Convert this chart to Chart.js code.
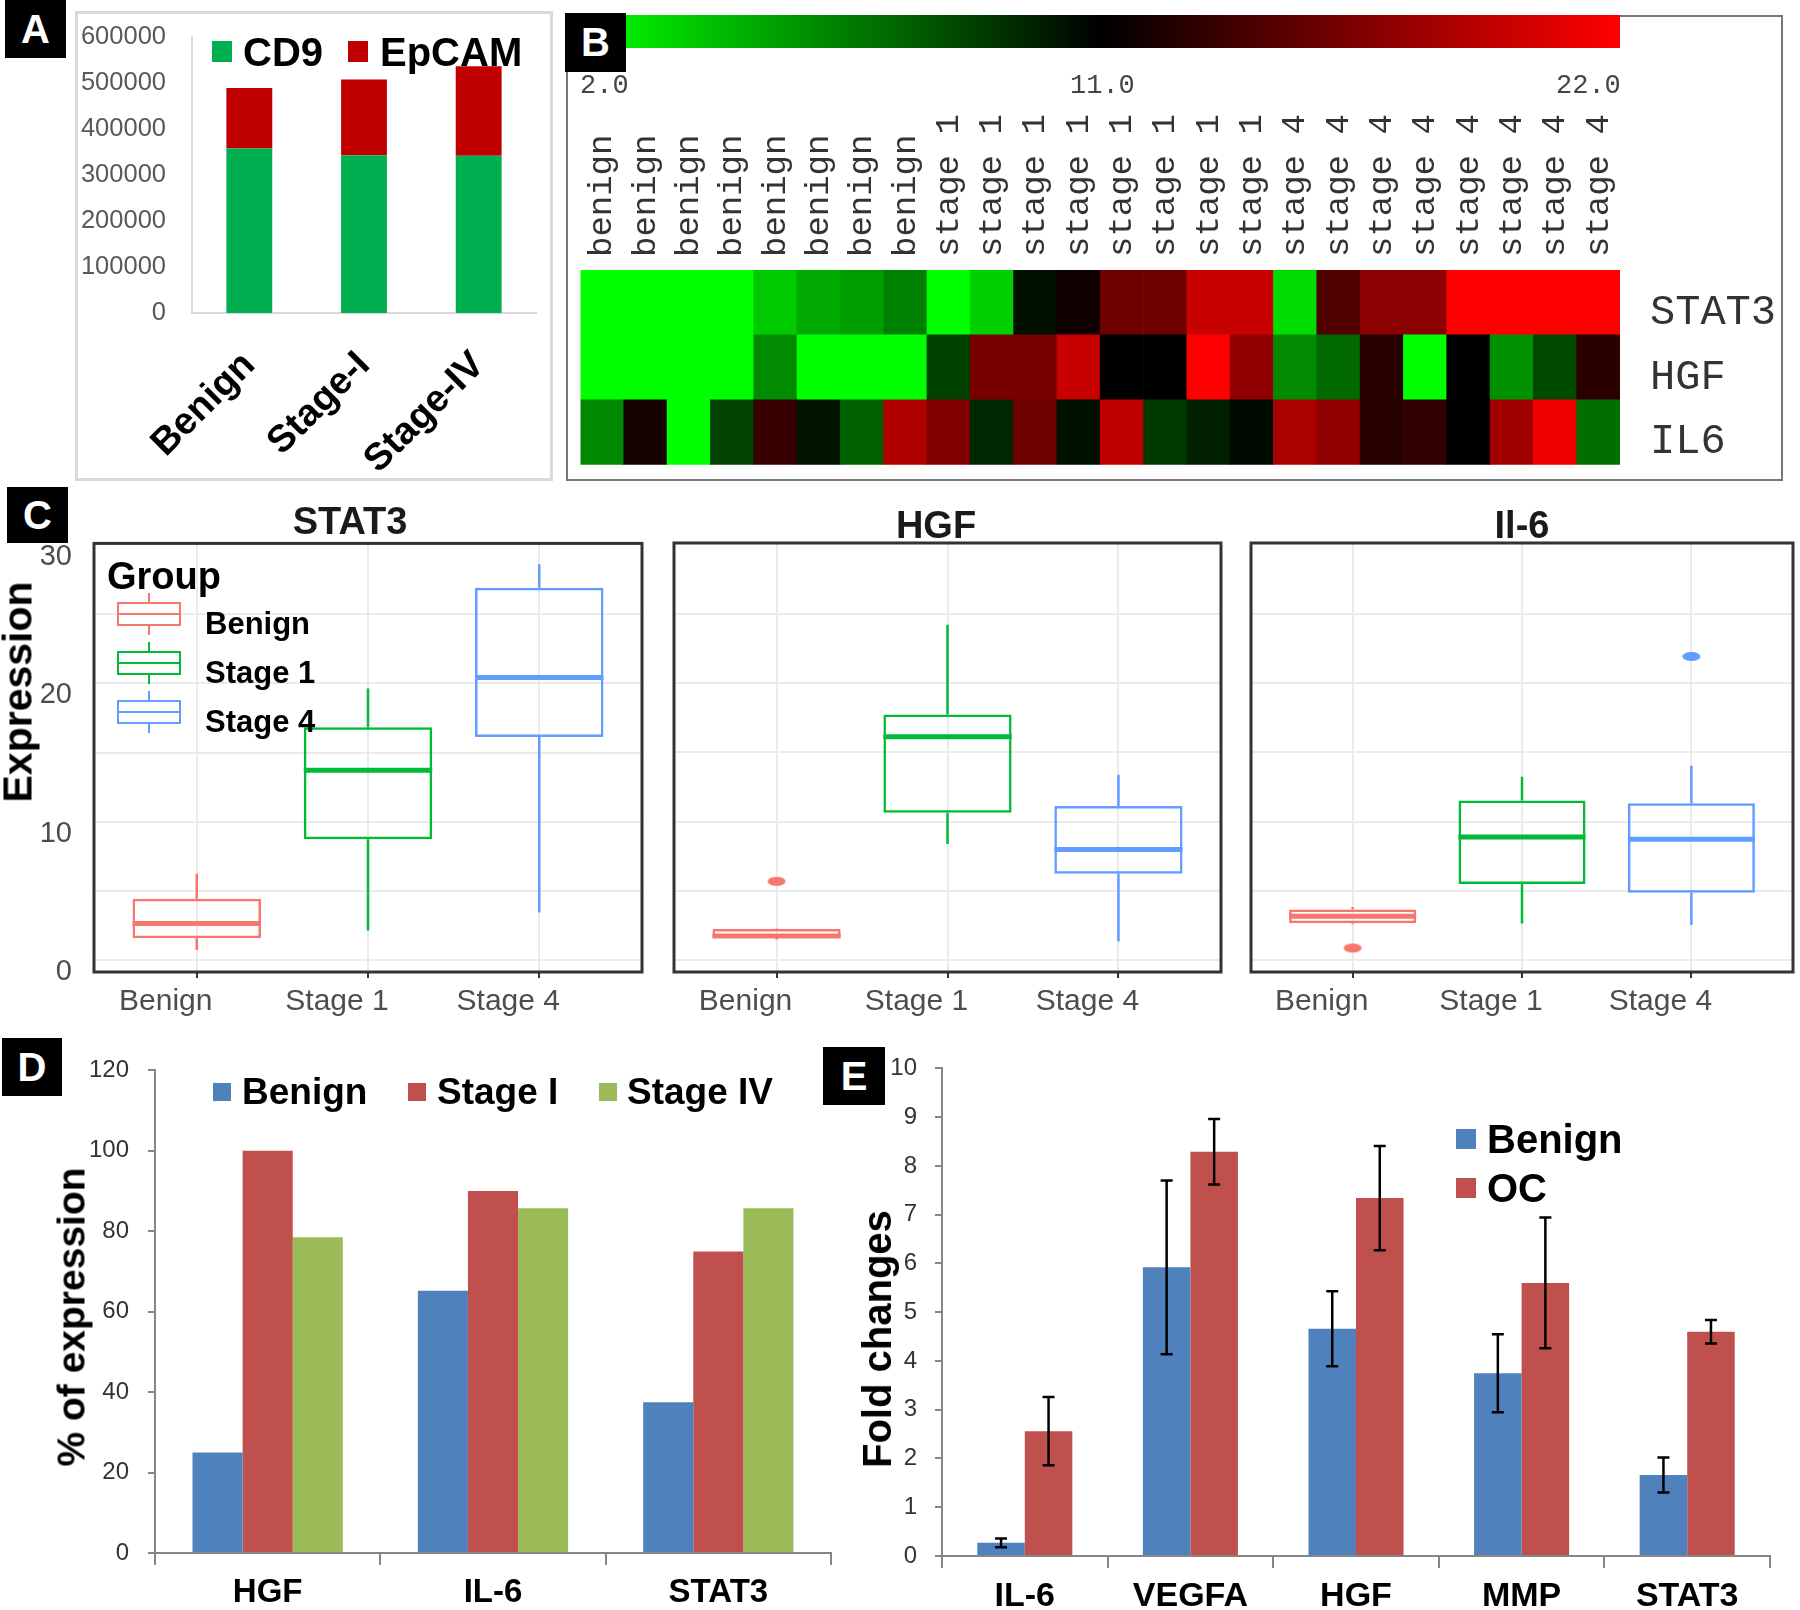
<!DOCTYPE html>
<html>
<head>
<meta charset="utf-8">
<script src="https://cdn.jsdelivr.net/npm/chart.js@4.4.1/dist/chart.umd.min.js"></script>
<style>
body{margin:0;background:#fff;width:1800px;height:1610px;position:relative;overflow:hidden;font-family:"Liberation Sans",Arial,sans-serif}
canvas{position:absolute}
.frame{position:absolute;box-sizing:border-box}
.badge{position:absolute;background:#000;color:#fff;font-weight:bold;font-size:40px;display:flex;align-items:center;justify-content:center}
.vt{position:absolute;transform:translate(-50%,-50%) rotate(-90deg);white-space:nowrap;font-weight:bold;color:#000;line-height:1}
.txt{position:absolute;white-space:nowrap;line-height:1}
.sw{position:absolute}
.mono{font-family:"Liberation Mono","Courier New",monospace;color:#444}
</style>
</head>
<body>

<div class="frame" style="left:75px;top:11px;width:478px;height:470px;border:3px solid #d9d9d9"></div>
<div class="frame" style="left:566px;top:15px;width:1217px;height:466px;border:2px solid #777"></div>
<div class="sw" style="left:584px;top:15px;width:1036px;height:33px;background:linear-gradient(to right,#00ff00,#000 50%,#ff0000)"></div>

<canvas id="cA" width="478" height="485" style="left:75px;top:-4px"></canvas>
<canvas id="cB" width="1235" height="505" style="left:548px;top:15px"></canvas>
<canvas id="cC1" width="650" height="526" style="left:0px;top:504px"></canvas>
<canvas id="cC2" width="600" height="526" style="left:650px;top:504px"></canvas>
<canvas id="cC3" width="560" height="526" style="left:1240px;top:504px"></canvas>
<canvas id="cD" width="745" height="573" style="left:90px;top:1037px"></canvas>
<canvas id="cE" width="900" height="574" style="left:890px;top:1036px"></canvas>

<!-- panel A legend -->
<div class="sw" style="left:212px;top:41px;width:20px;height:21px;background:#00B050"></div>
<div class="txt" style="left:243px;top:32px;font-size:40px;font-weight:bold">CD9</div>
<div class="sw" style="left:348px;top:41px;width:20px;height:21px;background:#C00000"></div>
<div class="txt" style="left:380px;top:32px;font-size:40px;font-weight:bold">EpCAM</div>

<!-- panel B colour scale labels -->
<div class="txt mono" style="left:580px;top:73px;font-size:27px">2.0</div>
<div class="txt mono" style="left:1070px;top:73px;font-size:27px">11.0</div>
<div class="txt mono" style="left:1556px;top:73px;font-size:27px">22.0</div>

<!-- panel C titles and legend -->
<div class="txt" style="left:350px;top:502px;font-size:38px;font-weight:bold;color:#1a1a1a;transform:translateX(-50%)">STAT3</div>
<div class="txt" style="left:936px;top:506px;font-size:38px;font-weight:bold;color:#1a1a1a;transform:translateX(-50%)">HGF</div>
<div class="txt" style="left:1522px;top:506px;font-size:38px;font-weight:bold;color:#1a1a1a;transform:translateX(-50%)">Il-6</div>
<div class="vt" style="left:18px;top:692px;font-size:41px">Expression</div>
<div id="legC"></div>

<!-- panel D legend -->
<div class="vt" style="left:71px;top:1317px;font-size:39px">% of expression</div>
<div class="sw" style="left:213px;top:1083px;width:18px;height:18px;background:#4F81BD"></div>
<div class="txt" style="left:242px;top:1073px;font-size:37px;font-weight:bold">Benign</div>
<div class="sw" style="left:408px;top:1083px;width:18px;height:18px;background:#C0504D"></div>
<div class="txt" style="left:437px;top:1073px;font-size:37px;font-weight:bold">Stage I</div>
<div class="sw" style="left:599px;top:1083px;width:18px;height:18px;background:#9BBB59"></div>
<div class="txt" style="left:627px;top:1073px;font-size:37px;font-weight:bold">Stage IV</div>

<!-- panel E legend -->
<div class="vt" style="left:877px;top:1339px;font-size:40px">Fold changes</div>
<div class="sw" style="left:1456px;top:1129px;width:20px;height:20px;background:#4F81BD"></div>
<div class="txt" style="left:1487px;top:1119px;font-size:40px;font-weight:bold">Benign</div>
<div class="sw" style="left:1456px;top:1178px;width:20px;height:20px;background:#C0504D"></div>
<div class="txt" style="left:1487px;top:1168px;font-size:40px;font-weight:bold">OC</div>

<!-- panel letters -->
<div class="badge" style="left:5px;top:0px;width:61px;height:58px">A</div>
<div class="badge" style="left:565px;top:13px;width:61px;height:59px">B</div>
<div class="badge" style="left:7px;top:487px;width:61px;height:56px">C</div>
<div class="badge" style="left:2px;top:1038px;width:60px;height:58px">D</div>
<div class="badge" style="left:823px;top:1047px;width:62px;height:58px">E</div>

<script>
// ---- panel A: CD9 / EpCAM counts
const groupsA = ['Benign', 'Stage-I', 'Stage-IV'];
const cd9 = [358000, 343500, 342000];
const epcam = [131800, 164500, 195000];
const ticksA = [0, 100000, 200000, 300000, 400000, 500000, 600000];

// ---- panel B: heatmap
const samples = ['benign','benign','benign','benign','benign','benign','benign','benign',
  'stage 1','stage 1','stage 1','stage 1','stage 1','stage 1','stage 1','stage 1',
  'stage 4','stage 4','stage 4','stage 4','stage 4','stage 4','stage 4','stage 4'];
const genesB = ['STAT3', 'HGF', 'IL6'];
const stat3Heat = [2, 2, 2, 2, 3.9, 5.0, 5.4, 6.5, 2, 3.7, 10.4, 11.7, 15.8, 15.8, 19.6, 19.6, 3.2, 14.5, 17.0, 17.0, 22, 22, 22, 22];
const hgfHeat = [2, 2, 2, 2, 6.1, 2, 2, 2, 8.7, 16.2, 16.2, 19.6, 11, 11, 22, 17.2, 6.1, 7.3, 12.7, 2, 11, 5.9, 8.4, 12.8];
const il6Heat = [6.2, 12.0, 2, 8.6, 13.4, 10.3, 7.6, 18.6, 16.5, 9.6, 15.8, 10.4, 19.3, 9.0, 9.9, 10.7, 18.3, 17.2, 12.7, 13.1, 11, 17.9, 21.4, 7.1];
const heatScale = [2.0, 11.0, 22.0];

// ---- panel C: box plots, each box = [lower whisker, q1, median, q3, upper whisker]
const stageGroups = ['Benign', 'Stage 1', 'Stage 4'];
const stat3Box = [[1.6, 2.45, 3.5, 5.3, 7.1], [3.0, 9.6, 14.6, 17.7, 20.5], [4.3, 17.0, 21.3, 27.8, 29.5]];
const hgfBox = [[2.35, 2.5, 2.6, 3.1, 3.15], [9.25, 11.5, 17.0, 18.6, 25.1], [2.2, 7.1, 8.85, 12.0, 14.25]];
const il6Box = [[3.45, 3.53, 4.02, 4.52, 4.7], [3.5, 6.35, 9.75, 12.4, 14.1], [3.4, 5.72, 9.6, 12.2, 14.9]];
const stat3Out = [[], [], []];
const hgfOut = [[6.55], [], []];
const il6Out = [[1.73], [], [22.8]];
const exprTicks = [0, 10, 20, 30];

// ---- panel D
const genesD = ['HGF', 'IL-6', 'STAT3'];
const benignPct = [25, 65.2, 37.5];
const stage1Pct = [100, 90, 75];
const stage4Pct = [78.5, 85.7, 85.7];

// ---- panel E
const genesE = ['IL-6', 'VEGFA', 'HGF', 'MMP', 'STAT3'];
const benignFold = [0.27, 5.92, 4.66, 3.75, 1.66];
const benignErr = [0.09, 1.78, 0.77, 0.8, 0.36];
const ocFold = [2.56, 8.29, 7.34, 5.6, 4.6];
const ocErr = [0.7, 0.67, 1.07, 1.34, 0.24];

const F = 'Liberation Sans';
const MONO = 'Liberation Mono';
Chart.defaults.font.family = F;
const base = {responsive: false, animation: false, devicePixelRatio: 1};
const noLegend = {legend: {display: false}, tooltip: {enabled: false}};

// ---------- A
new Chart(document.getElementById('cA'), {
  type: 'bar',
  data: {
    labels: groupsA,
    datasets: [
      {label: 'CD9', data: cd9, backgroundColor: '#00B050', barPercentage: 0.4, categoryPercentage: 1},
      {label: 'EpCAM', data: epcam, backgroundColor: '#C00000', barPercentage: 0.4, categoryPercentage: 1}
    ]
  },
  options: {...base,
    layout: {padding: {top: 41, right: 17, left: 0, bottom: 0}},
    plugins: noLegend,
    scales: {
      x: {stacked: true, grid: {display: false, drawTicks: false}, border: {color: '#d9d9d9', width: 2},
        ticks: {minRotation: 45, maxRotation: 45, color: '#000', font: {size: 38, weight: 'bold'}, padding: 30},
        afterFit: s => { s.height = 168; }},
      y: {stacked: true, min: 0, max: 600000,
        afterBuildTicks: s => { s.ticks = ticksA.map(v => ({value: v})); },
        grid: {display: false, drawTicks: false}, border: {color: '#d9d9d9', width: 2},
        ticks: {color: '#595959', font: {size: 25.5}, padding: 26, callback: v => v},
        afterFit: s => { s.width = 117; }}
    }
  }
});

// ---------- B
function heatColor(v) {
  const lo = heatScale[0], mid = heatScale[1], hi = heatScale[2];
  if (v <= mid) {
    const g = Math.round(255 * Math.min(1, (mid - v) / (mid - lo)));
    return 'rgb(0,' + g + ',0)';
  }
  const r = Math.round(255 * Math.min(1, (v - mid) / (hi - mid)));
  return 'rgb(' + r + ',0,0)';
}
const heatRows = [il6Heat, hgfHeat, stat3Heat]; // stacked bottom to top
new Chart(document.getElementById('cB'), {
  type: 'bar',
  data: {
    labels: samples,
    datasets: heatRows.map((row, k) => ({
      label: genesB[2 - k],
      data: row.map(() => 1),
      backgroundColor: row.map(heatColor),
      barPercentage: 1, categoryPercentage: 1, borderWidth: 0
    }))
  },
  options: {...base,
    layout: {padding: {left: 15, top: 0, bottom: 0, right: 0}},
    plugins: noLegend,
    scales: {
      x: {position: 'top', stacked: true, grid: {display: false, drawTicks: false}, border: {display: false},
        ticks: {autoSkip: false, minRotation: 90, maxRotation: 90, color: '#333', font: {family: MONO, size: 34},
          padding: 13, labelOffset: 41},
        afterFit: s => { s.height = 255; }},
      y: {position: 'right', stacked: true, min: 0, max: 3,
        afterBuildTicks: s => { s.ticks = [0.5, 1.5, 2.5].map(v => ({value: v})); },
        grid: {display: false, drawTicks: false}, border: {display: false},
        ticks: {color: '#333', font: {family: MONO, size: 42}, padding: 30, labelOffset: 10,
          callback: v => genesB[2 - Math.floor(v)]},
        afterFit: s => { s.width = 163; }}
    }
  }
});

// ---------- C
const boxColors = ['#F8766D', '#00BA38', '#619CFF'];
const gridVals = [0.87, 5.87, 10.87, 15.87, 20.87, 25.87];

function ellipseDot(color) {
  const c = document.createElement('canvas');
  c.width = 20; c.height = 11;
  const g = c.getContext('2d');
  g.fillStyle = color;
  g.beginPath();
  g.ellipse(10, 5.5, 9, 4.5, 0, 0, Math.PI * 2);
  g.fill();
  return c;
}

const boxParts = {
  id: 'boxParts',
  afterDatasetsDraw(chart, args, opts) {
    const {ctx, chartArea} = chart;
    const x = chart.scales.x, y = chart.scales.y;
    const meta = chart.getDatasetMeta(0);
    ctx.save();
    opts.boxes.forEach((b, i) => {
      const el = meta.data[i];
      const cx = x.getPixelForValue(i + 1);
      const half = el.width / 2;
      ctx.strokeStyle = boxColors[i];
      ctx.lineWidth = 2.5;
      ctx.beginPath();
      ctx.moveTo(cx, y.getPixelForValue(b[4])); ctx.lineTo(cx, y.getPixelForValue(b[3]));
      ctx.moveTo(cx, y.getPixelForValue(b[1])); ctx.lineTo(cx, y.getPixelForValue(b[0]));
      ctx.stroke();
      ctx.lineWidth = 5;
      ctx.beginPath();
      ctx.moveTo(cx - half, y.getPixelForValue(b[2])); ctx.lineTo(cx + half, y.getPixelForValue(b[2]));
      ctx.stroke();
    });
    ctx.strokeStyle = '#333';
    ctx.lineWidth = 3;
    ctx.strokeRect(chartArea.left, chartArea.top, chartArea.right - chartArea.left, chartArea.bottom - chartArea.top);
    ctx.restore();
  }
};

function boxChart(id, boxes, outs, yWidth, padRight, showY) {
  const pts = [], ptStyle = [];
  outs.forEach((list, i) => list.forEach(v => { pts.push({x: i + 1, y: v}); ptStyle.push(ellipseDot(boxColors[i])); }));
  return new Chart(document.getElementById(id), {
    type: 'bar',
    data: {
      datasets: [
        {type: 'bar', data: boxes.map((b, i) => ({x: i + 1, y: [b[1], b[3]]})),
          backgroundColor: 'rgba(0,0,0,0)', borderColor: boxColors, borderWidth: 2.5, borderSkipped: false,
          barPercentage: 0.75, categoryPercentage: 1},
        {type: 'scatter', data: pts, pointStyle: ptStyle, pointRadius: 6}
      ]
    },
    options: {...base,
      layout: {padding: {top: 39, right: padRight, left: 0, bottom: 0}},
      plugins: {...noLegend, boxParts: {boxes: boxes}},
      scales: {
        x: {type: 'linear', min: 0.4, max: 3.6, offset: false,
          afterBuildTicks: s => { s.ticks = [1, 2, 3].map(v => ({value: v})); },
          grid: {color: '#ebebeb', lineWidth: 2, tickColor: '#333', tickLength: 6, offset: false},
          border: {display: false},
          ticks: {color: '#4d4d4d', font: {size: 30}, padding: 6, labelOffset: -31, callback: v => stageGroups[v - 1]},
          afterFit: s => { s.height = 58; }},
        y: {min: 0, max: 31,
          afterBuildTicks: s => { s.ticks = exprTicks.concat(gridVals).sort((a, b) => a - b).map(v => ({value: v})); },
          grid: {drawTicks: false, lineWidth: 2,
            color: c => (c.tick && exprTicks.includes(c.tick.value)) ? 'rgba(0,0,0,0)' : '#ebebeb'},
          border: {display: false},
          ticks: {display: showY, autoSkip: false, color: '#4d4d4d', font: {size: 29}, padding: 22,
            callback: v => exprTicks.includes(v) ? v : ''},
          afterFit: s => { s.width = yWidth; }}
      }
    },
    plugins: [boxParts]
  });
}
boxChart('cC1', stat3Box, stat3Out, 94, 8, true);
boxChart('cC2', hgfBox, hgfOut, 24, 29, false);
boxChart('cC3', il6Box, il6Out, 11, 1, false);

// legend for C
(function () {
  const leg = document.getElementById('legC');
  let html = '<div class="txt" style="left:107px;top:557px;font-size:38px;font-weight:bold">Group</div>';
  const ys = [614, 663, 712];
  stageGroups.forEach((g, i) => {
    const c = boxColors[i], cy = ys[i];
    html += '<div class="sw" style="left:117px;top:' + (cy - 12) + 'px;width:64px;height:24px;box-sizing:border-box;border:2px solid ' + c + '"></div>';
    html += '<div class="sw" style="left:117px;top:' + (cy - 1) + 'px;width:64px;height:2px;background:' + c + '"></div>';
    html += '<div class="sw" style="left:148px;top:' + (cy - 21) + 'px;width:2px;height:9px;background:' + c + '"></div>';
    html += '<div class="sw" style="left:148px;top:' + (cy + 12) + 'px;width:2px;height:9px;background:' + c + '"></div>';
    html += '<div class="txt" style="left:205px;top:' + (cy + 10 - 16) + 'px;font-size:31px;font-weight:bold">' + g + '</div>';
  });
  leg.innerHTML = html;
})();

// ---------- D
const excelAxis = '#868686';
new Chart(document.getElementById('cD'), {
  type: 'bar',
  data: {
    labels: genesD,
    datasets: [
      {label: 'Benign', data: benignPct, backgroundColor: '#4F81BD'},
      {label: 'Stage I', data: stage1Pct, backgroundColor: '#C0504D'},
      {label: 'Stage IV', data: stage4Pct, backgroundColor: '#9BBB59'}
    ]
  },
  options: {...base,
    datasets: {bar: {barPercentage: 1, categoryPercentage: 0.667}},
    layout: {padding: {top: 33, right: 4, left: 0, bottom: 0}},
    plugins: noLegend,
    scales: {
      x: {grid: {offset: true, drawOnChartArea: false, tickLength: 12, color: excelAxis, lineWidth: 2},
        border: {color: excelAxis, width: 2},
        ticks: {color: '#000', font: {size: 33, weight: 'bold'}, padding: 8},
        afterFit: s => { s.height = 57; }},
      y: {min: 0, max: 120,
        grid: {drawOnChartArea: false, tickLength: 7, color: excelAxis, lineWidth: 2},
        border: {color: excelAxis, width: 2},
        ticks: {stepSize: 20, color: '#333', font: {size: 24}, padding: 19},
        afterFit: s => { s.width = 65; }}
    }
  }
});

// ---------- E
const errorBars = {
  id: 'errorBars',
  afterDatasetsDraw(chart, args, opts) {
    const {ctx} = chart;
    const y = chart.scales.y;
    ctx.save();
    ctx.strokeStyle = '#000';
    ctx.lineWidth = 2.5;
    opts.errors.forEach((errs, d) => {
      const meta = chart.getDatasetMeta(d);
      const vals = chart.data.datasets[d].data;
      meta.data.forEach((el, i) => {
        const top = y.getPixelForValue(vals[i] + errs[i]);
        const bot = y.getPixelForValue(vals[i] - errs[i]);
        ctx.beginPath();
        ctx.moveTo(el.x, top); ctx.lineTo(el.x, bot);
        ctx.moveTo(el.x - 6, top); ctx.lineTo(el.x + 6, top);
        ctx.moveTo(el.x - 6, bot); ctx.lineTo(el.x + 6, bot);
        ctx.stroke();
      });
    });
    ctx.restore();
  }
};
new Chart(document.getElementById('cE'), {
  type: 'bar',
  data: {
    labels: genesE,
    datasets: [
      {label: 'Benign', data: benignFold, backgroundColor: '#4F81BD'},
      {label: 'OC', data: ocFold, backgroundColor: '#C0504D'}
    ]
  },
  options: {...base,
    datasets: {bar: {barPercentage: 1, categoryPercentage: 0.574}},
    layout: {padding: {top: 32, right: 20, left: 0, bottom: 0}},
    plugins: {...noLegend, errorBars: {errors: [benignErr, ocErr]}},
    scales: {
      x: {grid: {offset: true, drawOnChartArea: false, tickLength: 12, color: excelAxis, lineWidth: 2},
        border: {color: excelAxis, width: 2},
        ticks: {color: '#000', font: {size: 34, weight: 'bold'}, padding: 8},
        afterFit: s => { s.height = 54; }},
      y: {min: 0, max: 10,
        grid: {drawOnChartArea: false, tickLength: 7, color: excelAxis, lineWidth: 2},
        border: {color: excelAxis, width: 2},
        ticks: {stepSize: 1, color: '#333', font: {size: 24}, padding: 18},
        afterFit: s => { s.width = 52; }}
    }
  },
  plugins: [errorBars]
});
</script>
</body>
</html>
